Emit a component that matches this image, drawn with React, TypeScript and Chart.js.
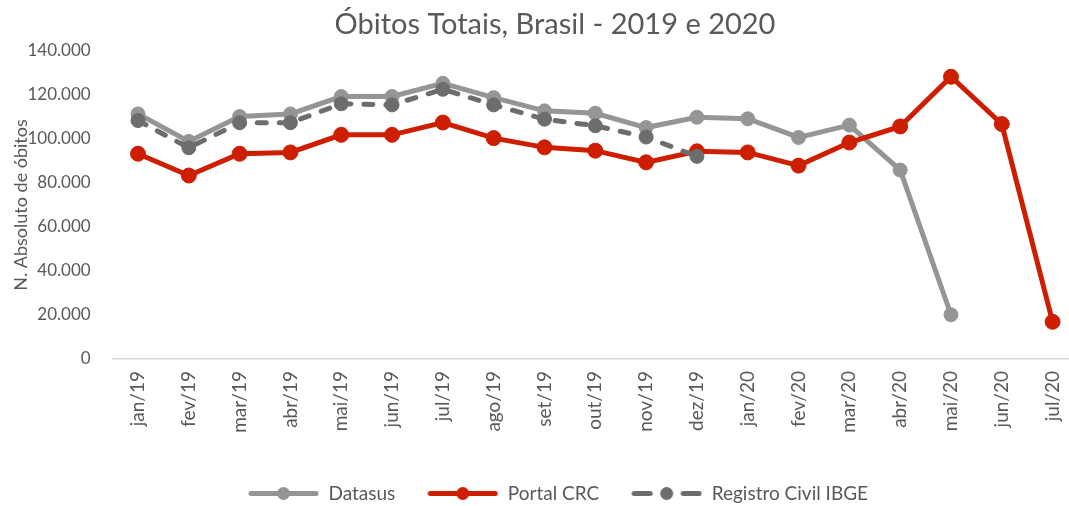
import React, { useEffect, useRef } from 'react';
import { Chart, registerables } from 'chart.js';

Chart.register(...registerables);

const categories = [
  'jan/19', 'fev/19', 'mar/19', 'abr/19', 'mai/19', 'jun/19', 'jul/19', 'ago/19', 'set/19', 'out/19',
  'nov/19', 'dez/19', 'jan/20', 'fev/20', 'mar/20', 'abr/20', 'mai/20', 'jun/20', 'jul/20',
];

const datasus = [
  111400, 98900, 110200, 111400, 119300, 119300, 125300, 118800, 112800, 111700,
  105200, 109900, 109200, 100700, 106300, 85900, 20100,
];

const portalCRC = [
  93300, 83400, 93300, 93900, 101900, 101900, 107500, 100400, 96200, 94700,
  89400, 94400, 93900, 87900, 98400, 105700, 128300, 106800, 16900,
];

const registroCivilIBGE = [
  108400, 96000, 107400, 107400, 116000, 115500, 122600, 115500, 109000, 106000,
  100900, 92100,
];

const seriesNames = ['Datasus', 'Portal CRC', 'Registro Civil IBGE'];
const chartTitle = 'Óbitos Totais, Brasil - 2019 e 2020';
const yAxisTitle = 'N. Absoluto de óbitos';

const FONT = 'Lato, "Open Sans", sans-serif';
const TEXT = '#595959';
const GRAY = '#959595';
const RED = '#cd1f00';
const DARK = '#6d6d6d';
const TITLE_SHIFT = 16;
const LEGEND_SHIFT = 19;

const fmt = (v: number) => String(v).replace(/\B(?=(\d{3})+(?!\d))/g, '.');

function makeSymbol(color: string, dashed: boolean): HTMLCanvasElement {
  const c = document.createElement('canvas');
  c.width = 71;
  c.height = 17;
  const ctx = c.getContext('2d')!;
  ctx.strokeStyle = color;
  ctx.fillStyle = color;
  ctx.lineWidth = 5;
  ctx.lineCap = 'round';
  if (dashed) {
    ctx.beginPath(); ctx.moveTo(3, 8.5); ctx.lineTo(19, 8.5); ctx.stroke();
    ctx.beginPath(); ctx.moveTo(52, 8.5); ctx.lineTo(68, 8.5); ctx.stroke();
  } else {
    ctx.beginPath(); ctx.moveTo(3, 8.5); ctx.lineTo(68, 8.5); ctx.stroke();
  }
  ctx.beginPath();
  ctx.arc(35.5, 8.5, 6.5, 0, Math.PI * 2);
  ctx.fill();
  return c;
}

const shiftHeader = {
  id: 'shiftHeader',
  afterLayout(chart: any) {
    if (chart.titleBlock) {
      chart.titleBlock.left += TITLE_SHIFT;
      chart.titleBlock.right += TITLE_SHIFT;
    }
    if (chart.legend) {
      chart.legend.left += LEGEND_SHIFT;
      chart.legend.right += LEGEND_SHIFT;
    }
  },
};

export default function App() {
  const ref = useRef<HTMLCanvasElement | null>(null);

  useEffect(() => {
    if (!ref.current) return;
    const symbols = [makeSymbol(GRAY, false), makeSymbol(RED, false), makeSymbol(DARK, true)];
    const colors = [GRAY, RED, DARK];

    const chart = new Chart(ref.current, {
      type: 'line',
      data: {
        labels: categories,
        datasets: [
          {
            label: seriesNames[0],
            data: datasus,
            borderColor: GRAY,
            backgroundColor: GRAY,
            borderWidth: 5,
            pointRadius: 7,
            pointBorderWidth: 1,
            pointBackgroundColor: GRAY,
            pointBorderColor: GRAY,
            order: 3,
          },
          {
            label: seriesNames[1],
            data: portalCRC,
            borderColor: RED,
            backgroundColor: RED,
            borderWidth: 5,
            pointRadius: 7.5,
            pointBorderWidth: 1,
            pointBackgroundColor: RED,
            pointBorderColor: RED,
            order: 2,
          },
          {
            label: seriesNames[2],
            data: registroCivilIBGE,
            borderColor: DARK,
            backgroundColor: DARK,
            borderWidth: 5,
            borderDash: [9, 13],
            borderCapStyle: 'round',
            pointRadius: 7,
            pointBorderWidth: 1,
            pointBackgroundColor: DARK,
            pointBorderColor: DARK,
            order: 1,
          },
        ],
      },
      options: {
        responsive: false,
        animation: false,
        devicePixelRatio: 1,
        layout: { padding: { left: 0, right: 34, top: 0, bottom: 0 } },
        scales: {
          x: {
            offset: true,
            grid: { display: false, drawTicks: false, offset: true },
            border: { display: true, color: '#d9d9d9', width: 1.5 },
            ticks: {
              autoSkip: false,
              minRotation: 90,
              maxRotation: 90,
              padding: 12,
              color: TEXT,
              font: { family: FONT, size: 19 },
            },
            afterFit: (scale: any) => { scale.height = 93; },
          },
          y: {
            min: 0,
            max: 140000,
            grid: { display: false, drawTicks: false },
            border: { display: false },
            ticks: {
              stepSize: 20000,
              padding: 22,
              color: TEXT,
              font: { family: FONT, size: 17 },
              callback: (v: any) => fmt(Number(v)),
            },
            title: {
              display: true,
              text: yAxisTitle,
              color: TEXT,
              font: { family: FONT, size: 18, lineHeight: 1.2 },
              padding: { top: 10, bottom: 0 },
            },
            afterFit: (scale: any) => { scale.width = 112.6; },
          },
        },
        plugins: {
          title: {
            display: true,
            text: chartTitle,
            color: TEXT,
            font: { family: FONT, size: 29, weight: 'normal', lineHeight: 1.2 },
            padding: { top: 7.6, bottom: 8.6 },
          },
          legend: {
            display: true,
            position: 'bottom',
            labels: {
              usePointStyle: true,
              pointStyleWidth: 71,
              padding: 32,
              color: TEXT,
              font: { family: FONT, size: 19 },
              generateLabels: () =>
                seriesNames.map((name, i) => ({
                  text: name,
                  fillStyle: colors[i],
                  strokeStyle: colors[i],
                  lineWidth: 0,
                  pointStyle: symbols[i],
                  datasetIndex: i,
                  hidden: false,
                  fontColor: TEXT,
                })),
            },
          },
          tooltip: { enabled: false },
        },
      },
      plugins: [shiftHeader],
    } as any);
    return () => chart.destroy();
  }, []);

  return (
    <div style={{ position: 'absolute', left: 0, top: 0, width: 1069, height: 506, overflow: 'hidden', background: '#fff' }}>
      <canvas ref={ref} width={1112} height={513} style={{ display: 'block', width: 1112, height: 513 }} />
    </div>
  );
}
